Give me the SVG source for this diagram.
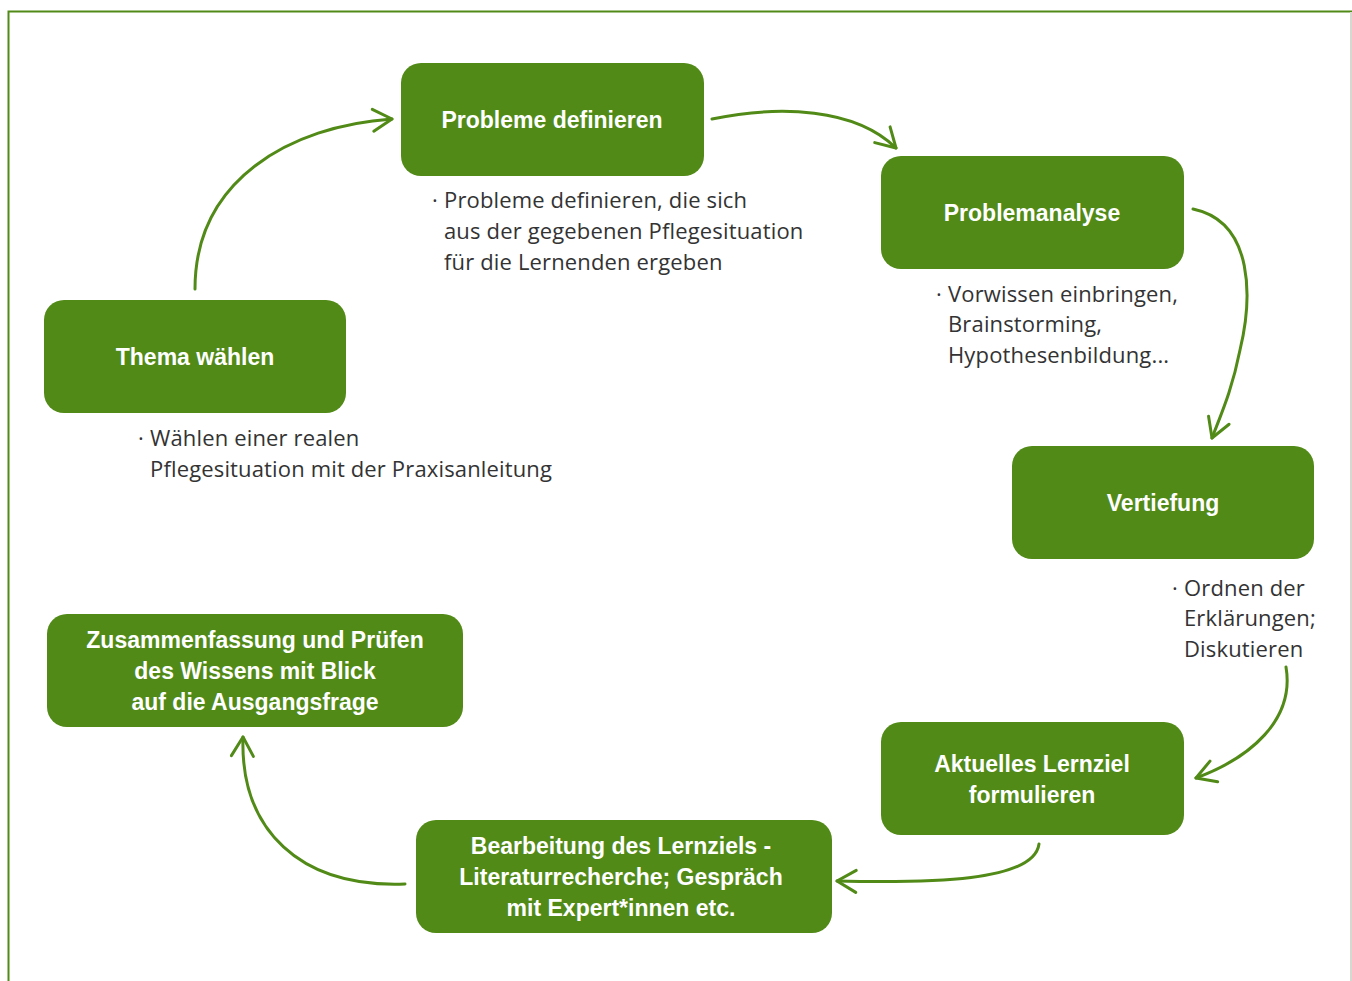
<svg xmlns="http://www.w3.org/2000/svg" width="1352" height="981" viewBox="0 0 1352 981">
<style>
.box{fill:#518a17}
.t{font-family:"Liberation Sans",Arial,sans-serif;font-weight:bold;font-size:23px;fill:#fff;text-anchor:middle}
.d{font-family:"Open Sans","Liberation Sans",sans-serif;font-size:22px;letter-spacing:0.15px;fill:#333}
.c{fill:none;stroke:#518a17;stroke-width:3;stroke-linecap:round}
</style>
<defs>
<marker id="ah" markerUnits="userSpaceOnUse" viewBox="-22 -14 26 28" refX="0" refY="0" markerWidth="26" markerHeight="28" orient="auto">
<path d="M-19,-11 L0,0 L-19,11" fill="none" stroke="#518a17" stroke-width="3" stroke-linecap="round" stroke-linejoin="round"/>
</marker>
</defs>
<rect width="1352" height="981" fill="#fff"/>
<path d="M8.5,981 V11.5 H1352" fill="none" stroke="#518a17" stroke-width="2"/>
<path d="M1351,12 V981" stroke="#d8d8d0" stroke-width="2"/>
<g id="connectors">
<path class="c" marker-end="url(#ah)" d="M195,289 C195,180 290,126 392,119"/>
<path class="c" marker-end="url(#ah)" d="M712,119 C780,105 855,108 896,148"/>
<path class="c" marker-end="url(#ah)" d="M1193,209 C1255,222 1252,300 1240,350 C1232,390 1222,412 1212,438"/>
<path class="c" marker-end="url(#ah)" d="M1286,667 C1295,720 1250,758 1196,778"/>
<path class="c" marker-end="url(#ah)" d="M1039,844 C1034,882 930,883 837,881"/>
<path class="c" marker-end="url(#ah)" d="M405,884 C300,888 240,830 243,737"/>
</g>
<g id="n-probleme">
<rect class="box" x="401" y="63" width="303" height="113" rx="20"/>
<text class="t" x="552" y="128">Probleme definieren</text>
</g>
<g id="n-analyse">
<rect class="box" x="881" y="156" width="303" height="113" rx="20"/>
<text class="t" x="1032" y="221">Problemanalyse</text>
</g>
<g id="n-thema">
<rect class="box" x="44" y="300" width="302" height="113" rx="20"/>
<text class="t" x="195" y="365">Thema wählen</text>
</g>
<g id="n-vertiefung">
<rect class="box" x="1012" y="446" width="302" height="113" rx="20"/>
<text class="t" x="1163" y="511">Vertiefung</text>
</g>
<g id="n-zusammenfassung">
<rect class="box" x="47" y="614" width="416" height="113" rx="20"/>
<text class="t" x="255" y="648">Zusammenfassung und Prüfen</text>
<text class="t" x="255" y="679">des Wissens mit Blick</text>
<text class="t" x="255" y="710">auf die Ausgangsfrage</text>
</g>
<g id="n-lernziel">
<rect class="box" x="881" y="722" width="303" height="113" rx="20"/>
<text class="t" x="1032" y="772">Aktuelles Lernziel</text>
<text class="t" x="1032" y="803">formulieren</text>
</g>
<g id="n-bearbeitung">
<rect class="box" x="416" y="820" width="416" height="113" rx="20"/>
<text class="t" x="621" y="854">Bearbeitung des Lernziels -</text>
<text class="t" x="621" y="885">Literaturrecherche; Gespräch</text>
<text class="t" x="621" y="916">mit Expert*innen etc.</text>
</g>
<g id="desc-probleme">
<text class="d" x="432" y="208">·</text>
<text class="d" x="444" y="208">Probleme definieren, die sich</text>
<text class="d" x="444" y="239">aus der gegebenen Pflegesituation</text>
<text class="d" x="444" y="270">für die Lernenden ergeben</text>
</g>
<g id="desc-analyse">
<text class="d" x="936" y="302">·</text>
<text class="d" x="948" y="302">Vorwissen einbringen,</text>
<text class="d" x="948" y="332">Brainstorming,</text>
<text class="d" x="948" y="363">Hypothesenbildung...</text>
</g>
<g id="desc-thema">
<text class="d" x="138" y="446">·</text>
<text class="d" x="150" y="446">Wählen einer realen</text>
<text class="d" x="150" y="477">Pflegesituation mit der Praxisanleitung</text>
</g>
<g id="desc-vertiefung">
<text class="d" x="1172" y="596">·</text>
<text class="d" x="1184" y="596">Ordnen der</text>
<text class="d" x="1184" y="626">Erklärungen;</text>
<text class="d" x="1184" y="657">Diskutieren</text>
</g>
</svg>
